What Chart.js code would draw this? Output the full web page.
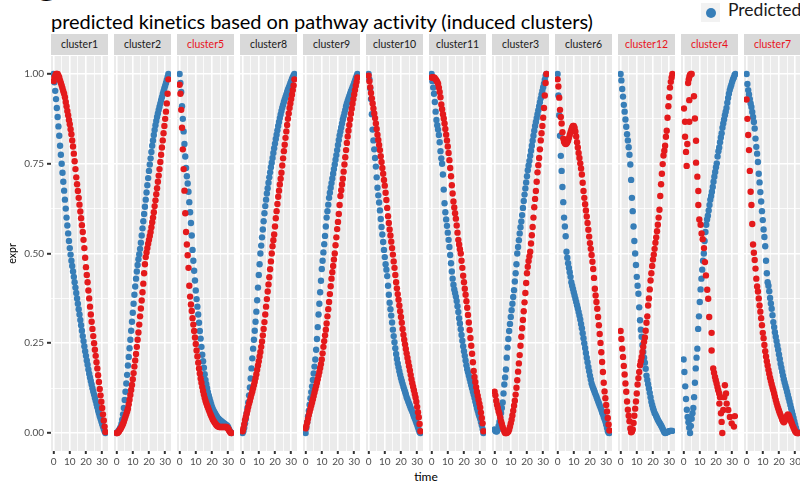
<!DOCTYPE html>
<html>
<head>
<meta charset="utf-8">
<script src="https://cdn.jsdelivr.net/npm/chart.js@4.4.1/dist/chart.umd.min.js"></script>
<style>
    html, body { margin: 0; padding: 0; background: #fff; }
    #page { position: relative; width: 800px; height: 486px; overflow: hidden; font-family: Lato, "Liberation Sans", sans-serif; }
    .tag { position: absolute; left: 31px; top: -34px; font-size: 40px; line-height: 40px; font-weight: bold; color: #000; }
    .title { position: absolute; left: 51px; top: 9px; font-size: 20px; line-height: 24px; color: #000; white-space: nowrap; letter-spacing: -0.05px; }
    .legend-key { position: absolute; left: 701px; top: 3px; width: 19px; height: 19px; background: #f2f2f2; }
    .legend-dot { position: absolute; left: 4.5px; top: 4.5px; width: 10px; height: 10px; border-radius: 50%; background: #377eb8; }
    .legend-text { position: absolute; left: 728px; top: 0px; font-size: 17.5px; line-height: 20px; color: #1a1a1a; white-space: nowrap; }
    .strip { position: absolute; top: 34px; width: 57px; height: 21px; background: #d9d9d9; color: #1a1a1a; font-size: 10.5px; line-height: 21px; text-align: center; }
    .strip.red { color: #e8131b; }
    .panel { position: absolute; top: 56px; line-height: 0; }
    .xlab { position: absolute; left: 376px; width: 100px; top: 470px; text-align: center; font-size: 12px; line-height: 14px; color: #000; }
</style>
</head>
<body>
<div id="page">
    <div class="tag">C</div>
    <div class="title">predicted kinetics based on pathway activity (induced clusters)</div>
    <div class="legend-key"><div class="legend-dot"></div></div>
    <div class="legend-text">Predicted</div>
    <div class="xlab">time</div>
</div>
<script>
// panel order and strip colours
var clusters = ['cluster1', 'cluster2', 'cluster5', 'cluster8', 'cluster9', 'cluster10',
                'cluster11', 'cluster3', 'cluster6', 'cluster12', 'cluster4', 'cluster7'];
var redClusters = ['cluster5', 'cluster12', 'cluster4', 'cluster7'];

// axis breaks
var xTickLabels = [0, 10, 20, 30];
var xGridLines = [0, 5, 10, 15, 20, 25, 30];
var yTickLabels = [0, 0.25, 0.5, 0.75, 1];
var yGridLines = [0, 0.125, 0.25, 0.375, 0.5, 0.625, 0.75, 0.875, 1];

var time = [0, 0.5, 1, 1.5, 2, 2.5, 3, 3.5, 4, 4.5, 5, 5.5, 6, 6.5, 7, 7.5, 8, 8.5, 9, 9.5,
            10, 10.5, 11, 11.5, 12, 12.5, 13, 13.5, 14, 14.5, 15, 15.5, 16, 16.5, 17, 17.5, 18, 18.5, 19, 19.5,
            20, 20.5, 21, 21.5, 22, 22.5, 23, 23.5, 24, 24.5, 25, 25.5, 26, 26.5, 27, 27.5, 28, 28.5, 29, 29.5,
            30, 30.5, 31, 31.5, 32];

var pred_cluster1 = [1.0, 0.977, 0.953, 0.93, 0.905, 0.88, 0.854, 0.828, 0.8, 0.775,
    0.75, 0.725, 0.7, 0.675, 0.65, 0.625, 0.6, 0.578, 0.556, 0.535,
    0.515, 0.497, 0.48, 0.465, 0.45, 0.435, 0.42, 0.405, 0.39, 0.375,
    0.36, 0.345, 0.33, 0.315, 0.3, 0.285, 0.27, 0.256, 0.242, 0.228,
    0.215, 0.202, 0.19, 0.177, 0.165, 0.155, 0.145, 0.135, 0.125, 0.116,
    0.107, 0.098, 0.09, 0.081, 0.072, 0.063, 0.055, 0.047, 0.04, 0.032,
    0.025, 0.018, 0.011, 0.005, 0.0];
var obs_cluster1 = [0.98, 0.99, 0.995, 1.0, 1.0, 1.0, 0.995, 0.99, 0.982, 0.975,
    0.968, 0.96, 0.952, 0.945, 0.935, 0.922, 0.91, 0.897, 0.885, 0.872,
    0.86, 0.846, 0.832, 0.815, 0.798, 0.778, 0.757, 0.735, 0.712, 0.693,
    0.674, 0.655, 0.636, 0.617, 0.598, 0.579, 0.56, 0.538, 0.515, 0.488,
    0.462, 0.44, 0.42, 0.397, 0.375, 0.352, 0.33, 0.31, 0.29, 0.27,
    0.25, 0.232, 0.215, 0.197, 0.18, 0.161, 0.142, 0.123, 0.105, 0.087,
    0.07, 0.052, 0.035, 0.018, 0.003];

var pred_cluster2 = [0.0, 0.002, 0.005, 0.008, 0.012, 0.017, 0.025, 0.037, 0.052, 0.07,
    0.092, 0.115, 0.138, 0.162, 0.188, 0.212, 0.236, 0.26, 0.285, 0.31,
    0.335, 0.36, 0.385, 0.408, 0.43, 0.45, 0.468, 0.484, 0.498, 0.513,
    0.53, 0.55, 0.57, 0.59, 0.61, 0.63, 0.65, 0.67, 0.69, 0.71,
    0.73, 0.748, 0.765, 0.783, 0.8, 0.815, 0.83, 0.844, 0.857, 0.869,
    0.88, 0.89, 0.9, 0.909, 0.918, 0.927, 0.935, 0.944, 0.952, 0.96,
    0.967, 0.975, 0.983, 0.992, 1.0];
var obs_cluster2 = [0.0, 0.0, 0.002, 0.005, 0.009, 0.012, 0.016, 0.021, 0.026, 0.032,
    0.039, 0.046, 0.053, 0.06, 0.068, 0.08, 0.093, 0.106, 0.12, 0.134,
    0.15, 0.167, 0.185, 0.202, 0.22, 0.24, 0.26, 0.28, 0.302, 0.325,
    0.347, 0.369, 0.392, 0.416, 0.445, 0.47, 0.49, 0.503, 0.515, 0.527,
    0.538, 0.549, 0.56, 0.573, 0.587, 0.6, 0.615, 0.632, 0.648, 0.665,
    0.682, 0.7, 0.717, 0.735, 0.755, 0.775, 0.795, 0.815, 0.835, 0.855,
    0.875, 0.895, 0.918, 0.945, 0.985];

var pred_cluster5 = [1.0, 0.975, 0.95, 0.91, 0.875, 0.84, 0.805, 0.77, 0.738, 0.715,
    0.695, 0.672, 0.643, 0.615, 0.585, 0.55, 0.51, 0.48, 0.452, 0.425,
    0.397, 0.373, 0.352, 0.33, 0.307, 0.284, 0.263, 0.24, 0.218, 0.2,
    0.182, 0.164, 0.148, 0.136, 0.125, 0.114, 0.105, 0.096, 0.088, 0.08,
    0.073, 0.067, 0.062, 0.058, 0.054, 0.05, 0.046, 0.043, 0.04, 0.038,
    0.036, 0.034, 0.032, 0.03, 0.028, 0.027, 0.025, 0.023, 0.022, 0.02,
    0.016, 0.011, 0.006, 0.002, 0.0];
var obs_cluster5 = [0.97, 0.945, 0.9, 0.85, 0.79, 0.735, 0.675, 0.612, 0.56, 0.525,
    0.495, 0.46, 0.41, 0.38, 0.358, 0.34, 0.32, 0.302, 0.284, 0.266,
    0.248, 0.23, 0.213, 0.196, 0.18, 0.166, 0.152, 0.14, 0.128, 0.117,
    0.107, 0.098, 0.09, 0.083, 0.077, 0.071, 0.065, 0.059, 0.053, 0.048,
    0.043, 0.038, 0.034, 0.03, 0.027, 0.024, 0.021, 0.019, 0.018, 0.017,
    0.017, 0.017, 0.017, 0.017, 0.017, 0.017, 0.017, 0.017, 0.017, 0.015,
    0.012, 0.008, 0.004, 0.001, 0.0];

var pred_cluster8 = [0.0, 0.005, 0.015, 0.027, 0.04, 0.055, 0.07, 0.085, 0.105, 0.127,
    0.152, 0.18, 0.208, 0.235, 0.26, 0.285, 0.31, 0.338, 0.37, 0.405,
    0.44, 0.47, 0.5, 0.522, 0.545, 0.567, 0.59, 0.612, 0.632, 0.65,
    0.667, 0.682, 0.697, 0.712, 0.726, 0.74, 0.753, 0.766, 0.78, 0.793,
    0.806, 0.819, 0.831, 0.843, 0.855, 0.866, 0.877, 0.887, 0.897, 0.906,
    0.914, 0.922, 0.929, 0.936, 0.943, 0.95, 0.956, 0.962, 0.968, 0.974,
    0.98, 0.986, 0.991, 0.996, 1.0];
var obs_cluster8 = [0.005, 0.013, 0.024, 0.036, 0.045, 0.054, 0.063, 0.073, 0.082, 0.09,
    0.099, 0.108, 0.116, 0.125, 0.134, 0.143, 0.153, 0.164, 0.176, 0.188,
    0.2, 0.213, 0.226, 0.24, 0.255, 0.272, 0.29, 0.309, 0.33, 0.352,
    0.373, 0.394, 0.414, 0.434, 0.456, 0.478, 0.5, 0.52, 0.537, 0.553,
    0.575, 0.598, 0.618, 0.638, 0.658, 0.675, 0.692, 0.708, 0.725, 0.745,
    0.765, 0.785, 0.803, 0.822, 0.84, 0.858, 0.875, 0.89, 0.905, 0.918,
    0.93, 0.942, 0.955, 0.968, 0.985];

var pred_cluster9 = [0.0, 0.015, 0.03, 0.046, 0.062, 0.079, 0.097, 0.114, 0.13, 0.148,
    0.166, 0.185, 0.205, 0.232, 0.262, 0.295, 0.33, 0.36, 0.392, 0.424,
    0.457, 0.48, 0.503, 0.526, 0.549, 0.575, 0.6, 0.618, 0.636, 0.655,
    0.669, 0.683, 0.696, 0.709, 0.722, 0.735, 0.748, 0.761, 0.774, 0.788,
    0.802, 0.816, 0.829, 0.84, 0.851, 0.862, 0.873, 0.882, 0.891, 0.9,
    0.91, 0.918, 0.925, 0.932, 0.939, 0.945, 0.951, 0.957, 0.963, 0.969,
    0.975, 0.981, 0.988, 0.994, 1.0];
var obs_cluster9 = [0.013, 0.02, 0.03, 0.04, 0.05, 0.059, 0.068, 0.077, 0.085, 0.094,
    0.103, 0.113, 0.122, 0.131, 0.14, 0.15, 0.16, 0.17, 0.181, 0.192,
    0.205, 0.222, 0.24, 0.256, 0.272, 0.288, 0.305, 0.325, 0.345, 0.365,
    0.387, 0.409, 0.43, 0.448, 0.465, 0.483, 0.5, 0.523, 0.545, 0.568,
    0.588, 0.61, 0.635, 0.66, 0.676, 0.692, 0.708, 0.728, 0.748, 0.768,
    0.788, 0.808, 0.826, 0.842, 0.858, 0.874, 0.889, 0.903, 0.917, 0.93,
    0.943, 0.955, 0.967, 0.978, 0.99];

var pred_cluster10 = [1.0, 0.985, 0.96, 0.93, 0.888, 0.845, 0.815, 0.79, 0.766, 0.742,
    0.712, 0.683, 0.662, 0.642, 0.62, 0.596, 0.574, 0.553, 0.532, 0.51,
    0.49, 0.47, 0.455, 0.437, 0.41, 0.385, 0.363, 0.345, 0.327, 0.308,
    0.288, 0.27, 0.253, 0.236, 0.22, 0.206, 0.194, 0.183, 0.172, 0.162,
    0.153, 0.145, 0.137, 0.129, 0.122, 0.115, 0.108, 0.1, 0.094, 0.088,
    0.082, 0.076, 0.07, 0.065, 0.059, 0.053, 0.047, 0.041, 0.035, 0.029,
    0.023, 0.016, 0.009, 0.003, 0.0];
var obs_cluster10 = [0.995, 0.98, 0.963, 0.947, 0.932, 0.918, 0.904, 0.89, 0.877, 0.862,
    0.847, 0.831, 0.816, 0.802, 0.788, 0.771, 0.755, 0.738, 0.722, 0.705,
    0.689, 0.669, 0.649, 0.627, 0.604, 0.585, 0.567, 0.55, 0.533, 0.515,
    0.497, 0.478, 0.46, 0.44, 0.42, 0.403, 0.387, 0.371, 0.355, 0.339,
    0.323, 0.307, 0.29, 0.274, 0.26, 0.247, 0.234, 0.222, 0.21, 0.198,
    0.186, 0.174, 0.162, 0.15, 0.139, 0.129, 0.119, 0.109, 0.099, 0.087,
    0.073, 0.058, 0.044, 0.025, 0.005];

var pred_cluster11 = [1.0, 0.98, 0.962, 0.945, 0.922, 0.895, 0.872, 0.857, 0.845, 0.83,
    0.81, 0.785, 0.765, 0.75, 0.72, 0.678, 0.64, 0.615, 0.595, 0.577,
    0.558, 0.538, 0.518, 0.496, 0.473, 0.45, 0.43, 0.413, 0.4, 0.39,
    0.38, 0.368, 0.353, 0.337, 0.32, 0.305, 0.289, 0.273, 0.257, 0.242,
    0.228, 0.215, 0.202, 0.189, 0.178, 0.169, 0.16, 0.151, 0.142, 0.133,
    0.125, 0.116, 0.107, 0.098, 0.088, 0.079, 0.07, 0.062, 0.054, 0.047,
    0.04, 0.031, 0.022, 0.011, 0.0];
var obs_cluster11 = [0.99, 0.99, 0.99, 0.99, 0.988, 0.985, 0.982, 0.978, 0.973, 0.962,
    0.95, 0.935, 0.915, 0.902, 0.888, 0.876, 0.862, 0.847, 0.831, 0.815,
    0.798, 0.78, 0.76, 0.738, 0.715, 0.69, 0.667, 0.645, 0.628, 0.612,
    0.597, 0.578, 0.558, 0.538, 0.525, 0.512, 0.5, 0.48, 0.46, 0.438,
    0.42, 0.402, 0.385, 0.367, 0.349, 0.329, 0.308, 0.287, 0.265, 0.243,
    0.221, 0.197, 0.173, 0.156, 0.142, 0.128, 0.115, 0.104, 0.093, 0.082,
    0.071, 0.057, 0.042, 0.027, 0.005];

var pred_cluster3 = [0.01, 0.006, 0.004, 0.005, 0.01, 0.02, 0.031, 0.043, 0.056, 0.07,
    0.085, 0.11, 0.135, 0.155, 0.177, 0.21, 0.238, 0.262, 0.284, 0.304,
    0.323, 0.342, 0.36, 0.379, 0.398, 0.422, 0.445, 0.47, 0.5, 0.518,
    0.537, 0.556, 0.573, 0.589, 0.607, 0.627, 0.646, 0.664, 0.681, 0.698,
    0.715, 0.732, 0.745, 0.758, 0.772, 0.786, 0.8, 0.814, 0.828, 0.842,
    0.855, 0.866, 0.877, 0.888, 0.899, 0.91, 0.921, 0.932, 0.943, 0.953,
    0.963, 0.973, 0.984, 0.995, 1.0];
var obs_cluster3 = [0.115, 0.105, 0.09, 0.079, 0.07, 0.06, 0.053, 0.043, 0.033, 0.025,
    0.017, 0.01, 0.004, 0.0, 0.0, 0.0, 0.002, 0.004, 0.01, 0.018,
    0.027, 0.037, 0.049, 0.062, 0.076, 0.09, 0.107, 0.126, 0.147, 0.171,
    0.194, 0.217, 0.243, 0.268, 0.292, 0.315, 0.339, 0.364, 0.39, 0.418,
    0.445, 0.463, 0.479, 0.492, 0.505, 0.528, 0.551, 0.574, 0.6, 0.629,
    0.652, 0.674, 0.7, 0.726, 0.746, 0.766, 0.79, 0.815, 0.835, 0.855,
    0.878, 0.905, 0.94, 0.975, 1.0];

var pred_cluster6 = [1.0, 0.94, 0.885, 0.828, 0.772, 0.73, 0.685, 0.643, 0.6, 0.575,
    0.548, 0.505, 0.488, 0.473, 0.46, 0.448, 0.435, 0.42, 0.41, 0.401,
    0.392, 0.383, 0.374, 0.365, 0.356, 0.347, 0.337, 0.327, 0.316, 0.304,
    0.292, 0.278, 0.264, 0.25, 0.237, 0.223, 0.21, 0.197, 0.184, 0.172,
    0.16, 0.149, 0.138, 0.131, 0.125, 0.119, 0.113, 0.107, 0.101, 0.095,
    0.089, 0.083, 0.077, 0.071, 0.065, 0.058, 0.052, 0.045, 0.039, 0.032,
    0.024, 0.015, 0.006, 0.001, 0.0];
var obs_cluster6 = [0.985, 0.965, 0.934, 0.9, 0.88, 0.862, 0.838, 0.82, 0.811, 0.807,
    0.805, 0.806, 0.81, 0.815, 0.822, 0.83, 0.838, 0.845, 0.851, 0.855,
    0.855, 0.85, 0.84, 0.826, 0.81, 0.795, 0.78, 0.766, 0.751, 0.737,
    0.72, 0.697, 0.674, 0.655, 0.637, 0.62, 0.603, 0.585, 0.566, 0.547,
    0.529, 0.513, 0.496, 0.477, 0.457, 0.432, 0.402, 0.383, 0.365, 0.346,
    0.323, 0.3, 0.276, 0.251, 0.225, 0.198, 0.17, 0.14, 0.116, 0.097,
    0.078, 0.06, 0.042, 0.024, 0.007];

var pred_cluster12 = [1.0, 0.982, 0.958, 0.937, 0.914, 0.895, 0.873, 0.853, 0.832, 0.815,
    0.796, 0.775, 0.748, 0.705, 0.655, 0.618, 0.575, 0.535, 0.5, 0.468,
    0.435, 0.41, 0.388, 0.35, 0.314, 0.288, 0.268, 0.245, 0.226, 0.21,
    0.196, 0.179, 0.16, 0.148, 0.136, 0.124, 0.112, 0.1, 0.087, 0.078,
    0.07, 0.063, 0.056, 0.052, 0.047, 0.042, 0.037, 0.033, 0.029, 0.025,
    0.021, 0.017, 0.012, 0.007, 0.002, 0.0, 0.001, 0.002, 0.003, 0.004,
    0.005, 0.006, 0.006, 0.006, 0.006];
var obs_cluster12 = [0.284, 0.262, 0.235, 0.212, 0.187, 0.163, 0.138, 0.115, 0.088, 0.065,
    0.048, 0.033, 0.013, 0.002, 0.004, 0.01, 0.028, 0.048, 0.068, 0.088,
    0.11, 0.135, 0.153, 0.17, 0.189, 0.2, 0.212, 0.226, 0.24, 0.254,
    0.266, 0.285, 0.307, 0.325, 0.355, 0.375, 0.4, 0.425, 0.445, 0.465,
    0.483, 0.497, 0.513, 0.53, 0.545, 0.562, 0.58, 0.6, 0.622, 0.66,
    0.693, 0.722, 0.749, 0.773, 0.786, 0.8, 0.825, 0.842, 0.878, 0.91,
    0.935, 0.962, 0.978, 0.99, 1.0];

var pred_cluster4 = [0.205, 0.17, 0.13, 0.095, 0.065, 0.045, 0.03, 0.015, 0.0, 0.02,
    0.04, 0.055, 0.07, 0.1, 0.14, 0.18, 0.21, 0.235, 0.29, 0.325,
    0.365, 0.4, 0.43, 0.455, 0.48, 0.5, 0.535, 0.56, 0.58, 0.595,
    0.605, 0.62, 0.635, 0.65, 0.66, 0.672, 0.685, 0.7, 0.714, 0.727,
    0.74, 0.751, 0.77, 0.785, 0.795, 0.81, 0.823, 0.835, 0.85, 0.862,
    0.873, 0.885, 0.895, 0.905, 0.92, 0.933, 0.945, 0.955, 0.963, 0.97,
    0.978, 0.985, 0.99, 0.997, 1.0];
// cluster4 observed values are scattered, so they keep their own time points
var obsTime_cluster4 = [0.2, 0.9, 0.9, 1.5, 1.9, 2.3, 2.8, 3.2, 3.5, 3.5,
    3.6, 4, 4.5, 5, 6.4, 7, 7.7, 7.7, 8.5, 9.1,
    9.1, 9.7, 10.5, 11.1, 11.8, 12.6, 13.2, 13.8, 14.6, 15.2,
    15.8, 17.3, 17.3, 18.3, 18.8, 19.4, 19.9, 20.4, 20.9, 21.4,
    22, 22.1, 22.5, 23.1, 23.5, 23.9, 24.5, 25.1, 25.5, 26.2,
    26.6, 27.6, 28.6, 29.7, 31.1, 31.7];
var obs_cluster4 = [0.904, 0.867, 0.825, 0.783, 0.744, 0.805, 0.975, 0.985, 0.927, 0.867,
    0.993, 0.998, 1.0, 1.0, 0.938, 0.876, 0.814, 0.753, 0.714, 0.674,
    0.635, 0.595, 0.58, 0.556, 0.54, 0.515, 0.476, 0.439, 0.399, 0.374,
    0.323, 0.279, 0.23, 0.18, 0.168, 0.156, 0.147, 0.138, 0.128, 0.119,
    0.11, 0.082, 0.1, 0.055, 0.031, 0.0, 0.064, 0.1, 0.133, 0.11,
    0.082, 0.064, 0.045, 0.027, 0.018, 0.047];

var pred_cluster7 = [1.0, 0.972, 0.955, 0.943, 0.93, 0.918, 0.908, 0.894, 0.88, 0.866,
    0.848, 0.82, 0.797, 0.778, 0.755, 0.722, 0.698, 0.671, 0.645, 0.618,
    0.593, 0.567, 0.546, 0.52, 0.48, 0.445, 0.42, 0.41, 0.395, 0.376,
    0.361, 0.346, 0.328, 0.309, 0.295, 0.281, 0.268, 0.256, 0.244, 0.232,
    0.219, 0.206, 0.193, 0.182, 0.171, 0.16, 0.15, 0.141, 0.132, 0.124,
    0.115, 0.106, 0.097, 0.088, 0.078, 0.069, 0.06, 0.051, 0.042, 0.032,
    0.023, 0.014, 0.006, 0.002, 0.0];
var obs_cluster7 = [0.929, 0.875, 0.83, 0.788, 0.73, 0.672, 0.635, 0.582, 0.525, 0.502,
    0.482, 0.458, 0.43, 0.408, 0.394, 0.375, 0.355, 0.338, 0.32, 0.3,
    0.279, 0.264, 0.245, 0.228, 0.213, 0.2, 0.188, 0.176, 0.165, 0.154,
    0.145, 0.136, 0.127, 0.119, 0.11, 0.101, 0.092, 0.084, 0.076, 0.069,
    0.062, 0.056, 0.05, 0.044, 0.038, 0.033, 0.03, 0.033, 0.038, 0.043,
    0.048, 0.052, 0.05, 0.044, 0.038, 0.032, 0.026, 0.02, 0.015, 0.01,
    0.005, 0.002, 0.0, 0.0, 0.0];

var predicted = {
    cluster1: pred_cluster1, cluster2: pred_cluster2, cluster5: pred_cluster5, cluster8: pred_cluster8,
    cluster9: pred_cluster9, cluster10: pred_cluster10, cluster11: pred_cluster11, cluster3: pred_cluster3,
    cluster6: pred_cluster6, cluster12: pred_cluster12, cluster4: pred_cluster4, cluster7: pred_cluster7
};
var observed = {
    cluster1: obs_cluster1, cluster2: obs_cluster2, cluster5: obs_cluster5, cluster8: obs_cluster8,
    cluster9: obs_cluster9, cluster10: obs_cluster10, cluster11: obs_cluster11, cluster3: obs_cluster3,
    cluster6: obs_cluster6, cluster12: obs_cluster12, cluster4: obs_cluster4, cluster7: obs_cluster7
};
var observedTime = { cluster4: obsTime_cluster4 };

var BLUE = '#377eb8';
var RED = '#e41a1c';
var FONT = 'Lato, "Liberation Sans", sans-serif';

// grey panel background behind the grid
var panelBackground = {
    id: 'panelBackground',
    beforeDraw: function(chart) {
        var a = chart.chartArea;
        var ctx = chart.ctx;
        ctx.save();
        ctx.fillStyle = '#ebebeb';
        ctx.fillRect(a.left, a.top, a.right - a.left, a.bottom - a.top);
        ctx.restore();
    }
};

function toPoints(xs, ys) {
    return ys.map(function(y, i) { return { x: xs[i], y: y }; });
}

// keep the label overhang from shrinking the plotting area
function noPadding(s) {
    s.paddingTop = 0;
    s.paddingBottom = 0;
    s.paddingLeft = 0;
    s.paddingRight = 0;
}

var page = document.getElementById('page');

clusters.forEach(function(name, k) {
    var plotLeft = 51 + 63 * k;
    var first = k === 0;
    var canvasLeft = first ? 0 : plotLeft - 4;
    var width = plotLeft + 57 + 2 - canvasLeft;

    var strip = document.createElement('div');
    strip.className = 'strip' + (redClusters.indexOf(name) >= 0 ? ' red' : '');
    strip.style.left = plotLeft + 'px';
    strip.textContent = name;
    page.appendChild(strip);

    var holder = document.createElement('div');
    holder.className = 'panel';
    holder.style.left = canvasLeft + 'px';
    var canvas = document.createElement('canvas');
    canvas.width = width;
    canvas.height = 417;
    holder.appendChild(canvas);
    page.appendChild(holder);

    new Chart(canvas.getContext('2d'), {
        type: 'scatter',
        data: {
            datasets: [{
                label: 'Observed',
                data: toPoints(observedTime[name] || time, observed[name]),
                backgroundColor: RED,
                pointRadius: 3.2,
                pointBorderWidth: 0
            }, {
                label: 'Predicted',
                data: toPoints(time, predicted[name]),
                backgroundColor: BLUE,
                pointRadius: 3.2,
                pointBorderWidth: 0
            }]
        },
        options: {
            responsive: false,
            animation: false,
            layout: { autoPadding: false, padding: { left: first ? 0 : 4, right: 2, top: 0, bottom: 0 } },
            plugins: { legend: { display: false }, tooltip: { enabled: false } },
            scales: {
                x: {
                    type: 'linear',
                    min: -1.6,
                    max: 33.6,
                    afterBuildTicks: function(s) { s.ticks = xGridLines.map(function(v) { return { value: v }; }); },
                    afterFit: function(s) { s.height = 22; noPadding(s); },
                    border: { display: false },
                    grid: {
                        color: '#ffffff',
                        lineWidth: function(c) { return c.tick && xTickLabels.indexOf(c.tick.value) >= 0 ? 1.6 : 0.8; },
                        tickLength: 3,
                        tickWidth: 2,
                        tickColor: function(c) { return c.tick && xTickLabels.indexOf(c.tick.value) >= 0 ? '#333333' : 'rgba(0,0,0,0)'; }
                    },
                    ticks: {
                        autoSkip: false,
                        maxRotation: 0,
                        minRotation: 0,
                        padding: 2,
                        color: '#4d4d4d',
                        font: { family: FONT, size: 10 },
                        callback: function(v) { return xTickLabels.indexOf(v) >= 0 ? String(v) : ''; }
                    }
                },
                y: {
                    type: 'linear',
                    min: -0.05,
                    max: 1.05,
                    afterBuildTicks: function(s) { s.ticks = yGridLines.map(function(v) { return { value: v }; }); },
                    afterFit: function(s) { s.width = first ? 51 : 0; noPadding(s); },
                    border: { display: false },
                    grid: {
                        color: '#ffffff',
                        lineWidth: function(c) { return c.tick && yTickLabels.indexOf(c.tick.value) >= 0 ? 1.6 : 0.8; },
                        drawTicks: first,
                        tickLength: 4,
                        tickWidth: 2,
                        tickColor: function(c) { return c.tick && yTickLabels.indexOf(c.tick.value) >= 0 ? '#333333' : 'rgba(0,0,0,0)'; }
                    },
                    ticks: {
                        display: first,
                        autoSkip: false,
                        padding: 3,
                        color: '#4d4d4d',
                        font: { family: FONT, size: 10 },
                        callback: function(v) { return yTickLabels.indexOf(v) >= 0 ? v.toFixed(2) : ''; }
                    },
                    title: {
                        display: first,
                        text: 'expr',
                        color: '#000000',
                        font: { family: FONT, size: 10.5 },
                        padding: { top: 6, bottom: 0 }
                    }
                }
            }
        },
        plugins: [panelBackground]
    });
});
</script>
</body>
</html>
